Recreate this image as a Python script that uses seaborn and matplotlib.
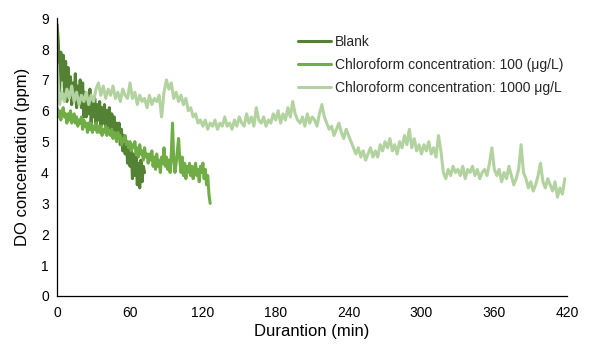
import matplotlib
matplotlib.use("Agg")
import matplotlib.pyplot as plt
import seaborn as sns
import numpy as np
import pandas as pd

# ---------------------------------------------
# DATA
# ---------------------------------------------
labels = [
    "Blank",
    "Chloroform concentration: 100 (\u03bcg/L)",
    "Chloroform concentration: 1000 \u03bcg/L",
]
colors = ["#548235", "#70AD47", "#B2D3A0"]

# Blank, one reading per minute, 0..72 min
blank_time = np.arange(0, 73, 1)
blank_do = [
    8.8, 8.2, 6.5, 7.9, 7.0, 7.8, 6.6, 7.6, 6.3, 7.4,
    6.5, 7.1, 6.2, 6.9, 6.4, 7.2, 6.1, 6.8, 6.3, 7.0,
    6.1, 6.9, 5.8, 6.6, 5.8, 6.5, 5.9, 6.7, 5.6, 6.3,
    5.8, 6.4, 5.5, 6.2, 5.7, 6.3, 5.5, 6.1, 5.6, 6.2,
    5.4, 6.0, 5.5, 6.1, 5.4, 5.9, 5.3, 5.8, 5.2, 5.6,
    5.1, 5.6, 4.9, 5.4, 4.7, 5.2, 4.6, 5.0, 4.3, 4.8,
    4.2, 4.9, 3.8, 4.6, 3.9, 4.5, 3.6, 4.3, 3.5, 4.4,
    3.7, 4.2, 4.0,
]

# 100 ug/L, one reading per minute, 0..126 min
c100_time = np.arange(0, 127, 1)
c100_do = [
    6.1, 5.8, 6.0, 5.7, 5.9, 6.1, 5.8, 5.9, 5.6, 5.9,
    5.7, 6.0, 5.6, 5.8, 5.9, 5.6, 5.8, 5.5, 5.7, 5.6,
    5.8, 5.4, 5.7, 5.5, 5.6, 5.3, 5.6, 5.4, 5.6, 5.3,
    5.5, 5.4, 5.6, 5.3, 5.5, 5.3, 5.5, 5.2, 5.4, 5.3,
    5.5, 5.2, 5.4, 5.3, 5.2, 5.4, 5.1, 5.3, 5.2, 5.0,
    5.3, 5.1, 5.2, 4.9, 5.1, 5.0, 5.2, 4.9, 5.0, 4.8,
    5.0, 4.7, 4.9, 4.8, 5.0, 4.6, 4.8, 4.5, 4.9, 4.6,
    4.7, 4.4, 4.8, 4.5, 4.6, 4.3, 4.6, 4.4, 4.7, 4.2,
    4.5, 4.1, 4.6, 4.2, 4.4, 4.0, 4.5, 4.3, 4.8, 4.2,
    4.5, 4.1, 4.4, 4.0, 4.6, 5.6, 4.4, 4.0, 4.3, 4.7,
    5.1, 4.4, 4.0, 4.5, 3.9, 4.3, 3.8, 4.2, 4.0, 4.3,
    3.9, 4.2, 3.8, 4.1, 4.3, 3.9, 4.1, 3.7, 4.2, 4.0,
    4.3, 3.8, 4.1, 3.6, 3.9, 3.3, 3.0,
]

# 1000 ug/L, one reading every 2 minutes, 0..418 min
c1000_time = np.arange(0, 419, 2)
c1000_do = [
    7.5, 6.2, 6.6, 6.3, 6.7, 6.4, 6.8, 6.3, 6.6, 6.2, 6.5,
    6.3, 6.6, 6.2, 6.5, 6.3, 6.7, 6.9, 6.5, 6.8, 6.4,
    6.7, 6.5, 6.8, 6.4, 6.6, 6.3, 6.7, 6.5, 6.4, 6.9,
    6.4, 6.6, 6.2, 6.5, 6.3, 6.4, 6.1, 6.5, 6.2, 6.4,
    6.3, 6.5, 5.8, 6.6, 7.0, 6.7, 6.9, 6.4, 6.6, 6.3,
    6.5, 6.2, 6.4, 6.0, 6.1, 5.8, 5.9, 5.6, 5.7, 5.5,
    5.7, 5.4, 5.6, 5.5, 5.7, 5.4, 5.6, 5.5, 5.8, 5.5,
    5.6, 5.4, 5.7, 5.5, 5.8, 5.6, 5.5, 5.9, 5.6, 5.8,
    5.5, 6.1, 5.7, 5.6, 5.8, 5.5, 5.7, 5.6, 5.9, 5.7,
    6.0, 5.6, 5.9, 5.7, 6.1, 5.8, 6.3, 5.9, 5.7, 5.6,
    5.8, 5.5, 5.9, 5.6, 5.8, 5.7, 5.5, 5.9, 6.2, 5.8,
    5.6, 5.4, 5.5, 5.2, 5.4, 5.6, 5.3, 5.1, 5.4, 5.2,
    5.0, 4.8, 4.6, 4.8, 4.5, 4.7, 4.4, 4.6, 4.8, 4.5,
    4.7, 4.5, 4.9, 4.7, 5.0, 4.8, 5.1, 4.7, 4.9, 4.6,
    5.0, 4.8, 5.2, 4.9, 5.4, 4.8, 5.1, 4.7, 4.9, 4.6,
    4.9, 4.7, 5.0, 4.6, 4.8, 4.5, 5.2, 4.7, 4.0, 3.8,
    4.1, 3.9, 4.2, 4.0, 4.1, 3.9, 4.2, 3.8, 4.1, 4.0,
    4.2, 3.9, 4.1, 3.8, 4.0, 4.1, 3.9, 4.3, 4.8, 4.1,
    3.9, 4.1, 3.7, 4.0, 3.8, 4.2, 3.9, 3.6, 3.8, 4.1,
    4.9, 4.0, 3.8, 3.5, 3.7, 3.4, 3.6, 3.9, 4.3, 3.7,
    3.5, 3.8, 3.6, 3.4, 3.7, 3.2, 3.5, 3.3, 3.8,
]

x_ticks = [0, 60, 120, 180, 240, 300, 360, 420]
y_ticks = list(range(0, 10))

# ---------------------------------------------
# LONG TABLE FOR SEABORN
# ---------------------------------------------
df = pd.concat([
    pd.DataFrame({"time": blank_time, "do": blank_do, "series": labels[0]}),
    pd.DataFrame({"time": c100_time, "do": c100_do, "series": labels[1]}),
    pd.DataFrame({"time": c1000_time, "do": c1000_do, "series": labels[2]}),
], ignore_index=True)

# ---------------------------------------------
# PLOT
# ---------------------------------------------
sns.set_theme(style="white")
plt.rcParams["font.family"] = ["Liberation Sans", "DejaVu Sans"]

fig = plt.figure(figsize=(5.89, 3.49), dpi=100)
ax = fig.add_axes([0.097, 0.152, 0.866, 0.796])

sns.lineplot(data=df, x="time", y="do", hue="series", hue_order=labels,
             palette=colors, estimator=None, sort=False, linewidth=2.2, ax=ax)

ax.set_xlim(0, 420)
ax.set_ylim(0, 9)
ax.set_xticks(x_ticks)
ax.set_yticks(y_ticks)
ax.set_xlabel("Durantion (min)", fontsize=12, color="black", labelpad=3)
ax.set_ylabel("DO concentration (ppm)", fontsize=12, color="black", labelpad=8)
ax.tick_params(axis="both", direction="in", length=4, width=0.9,
               labelsize=10, colors="black", pad=6)
ax.tick_params(axis="x", pad=7)

for side in ["top", "right"]:
    ax.spines[side].set_visible(False)
for side in ["left", "bottom"]:
    ax.spines[side].set_color("black")
    ax.spines[side].set_linewidth(0.9)

leg = ax.legend(loc="upper left", bbox_to_anchor=(0.455, 0.97), frameon=False,
                fontsize=10, handlelength=2.4, handletextpad=0.3,
                labelspacing=0.65, borderaxespad=0.2)
for line in leg.get_lines():
    line.set_linewidth(2.2)

plt.savefig("out.png", dpi=100)
